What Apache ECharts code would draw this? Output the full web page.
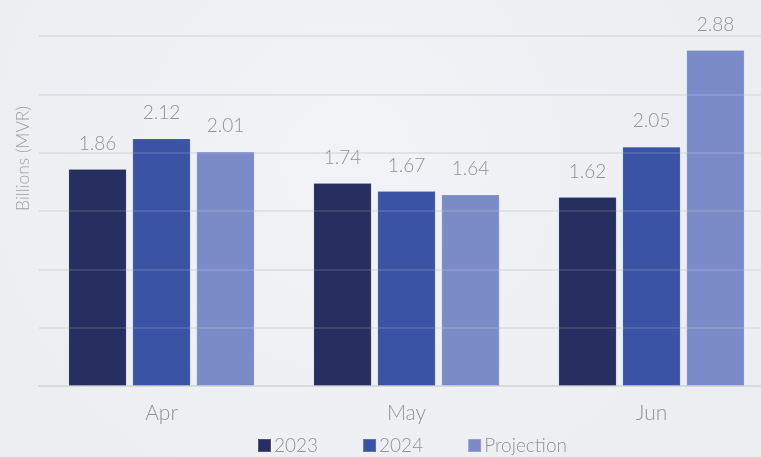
<!DOCTYPE html>
<html>
<head>
<meta charset="utf-8">
<script src="https://cdn.jsdelivr.net/npm/echarts@6/dist/echarts.min.js"></script>
<style>
  html, body { margin: 0; padding: 0; background: #eef0f3; overflow: hidden; }
  /* the plot runs past the right edge of the page */
  #chart { width: 775px; height: 457px; }
</style>
</head>
<body>
<div id="chart"></div>
<script>
// Monthly values, billions of MVR
const months = ['Apr', 'May', 'Jun'];
const seriesNames = ['2023', '2024', 'Projection'];
const values2023 = [1.86, 1.74, 1.62];
const values2024 = [2.12, 1.67, 2.05];
const valuesProjection = [2.01, 1.64, 2.88];
const barColors = ['#262f5f', '#3a53a4', '#7b8bc8'];

const FONT = 'Lato';
const TEXT_GRAY = '#929292';

function barSeries(name, data, color) {
  return {
    name: name,
    type: 'bar',
    data: data,
    barWidth: 58,
    barGap: '10.3%',
    itemStyle: { color: color, borderColor: 'rgba(255,255,255,0.18)', borderWidth: 0.8 },
    label: {
      show: true,
      position: 'top',
      distance: 16,
      color: TEXT_GRAY,
      fontFamily: FONT,
      fontWeight: 300,
      fontSize: 19,
      formatter: p => p.value.toFixed(2)
    }
  };
}

const chart = echarts.init(document.getElementById('chart'), null, { renderer: 'canvas' });
chart.setOption({
  backgroundColor: {
    type: 'radial', x: 0.45, y: 0.35, r: 0.9,
    colorStops: [
      { offset: 0, color: '#f1f3f6' },
      { offset: 1, color: '#eceef2' }
    ]
  },
  animation: false,
  grid: { left: 39, top: 36, width: 735, height: 350 },
  legend: {
    left: 257,
    top: 436,
    padding: 0,
    itemWidth: 13,
    itemHeight: 13,
    itemGap: 44,
    icon: 'rect',
    textStyle: { color: TEXT_GRAY, fontFamily: FONT, fontWeight: 300, fontSize: 19, padding: [0, 0, 0, -2] },
    data: seriesNames
  },
  xAxis: {
    type: 'category',
    data: months,
    axisLine: { show: true, lineStyle: { color: '#d6d6d6', width: 2 } },
    axisTick: { show: false },
    axisLabel: { color: TEXT_GRAY, fontFamily: FONT, fontWeight: 300, fontSize: 21, margin: 17 }
  },
  yAxis: [
    {
      type: 'value',
      min: 0, max: 3, interval: 0.5,
      axisLine: { show: false },
      axisTick: { show: false },
      axisLabel: { show: false },
      splitLine: { lineStyle: { color: '#d8d8d8', width: 1.5 } }
    },
    {
      // faint rules drawn across the bars
      type: 'value',
      min: 0, max: 3, interval: 0.5,
      position: 'left',
      z: 5,
      axisLine: { show: false },
      axisTick: { show: false },
      axisLabel: { show: false },
      splitLine: { lineStyle: { color: 'rgba(255,255,255,0.16)', width: 1.5 } }
    }
  ],
  graphic: [{
    type: 'text',
    left: 14,
    top: 106,
    rotation: Math.PI / 2,
    style: {
      text: 'Billions (MVR)',
      fill: '#a0a0a0',
      font: '300 17.5px Lato'
    }
  }],
  series: [
    barSeries(seriesNames[0], values2023, barColors[0]),
    barSeries(seriesNames[1], values2024, barColors[1]),
    barSeries(seriesNames[2], valuesProjection, barColors[2])
  ]
});
</script>
</body>
</html>
